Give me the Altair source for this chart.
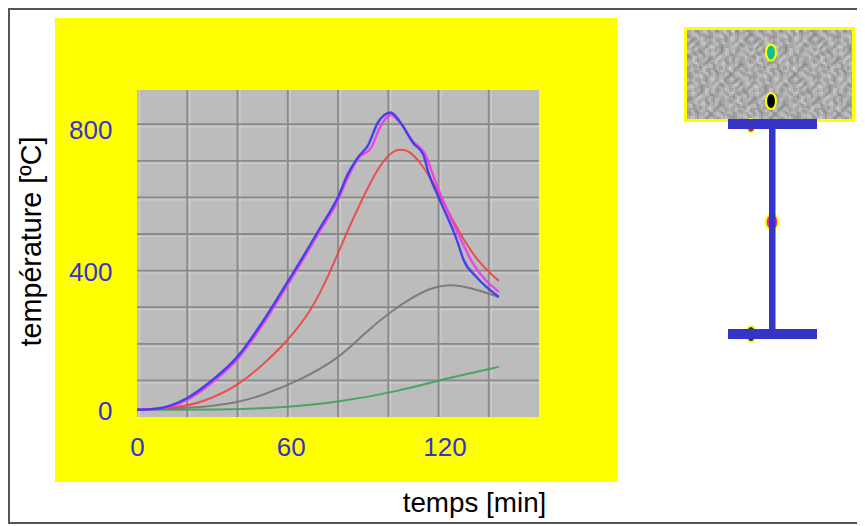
import altair as alt
import pandas as pd

# ---- chart data ----
t_blue = [0, 8, 20, 30, 40, 49, 60, 66, 72.7, 80, 84, 88, 92, 96, 101, 104.5, 110, 114, 116, 120, 127.6, 130, 135, 144]
T_blue = [20, 23, 52, 101, 165, 250, 370, 437, 515, 601, 665, 710, 743, 806, 832, 808, 748, 716, 667, 601, 478, 429, 383, 328]
t_magenta = [0, 8, 20, 30, 40, 49, 60, 66, 72.7, 80, 84, 88, 93.4, 96.6, 101, 104.5, 110, 114.5, 119, 128.4, 133.6, 144]
T_magenta = [20, 22, 47, 95, 158, 242, 362, 429, 507, 592, 656, 706, 738, 790, 825, 806, 752, 721, 639, 492, 421, 342]
t_red = [0, 20, 30, 40, 50, 59.6, 69.6, 76.7, 83.4, 90, 95.4, 100.5, 104.5, 108.5, 112.5, 117, 122, 128.4, 135.5, 144]
T_red = [20, 27, 52, 85, 142, 205, 292, 393, 503, 601, 675, 721, 733, 727, 697, 653, 585, 503, 424, 372]
t_gray = [0, 20, 40, 50, 63.6, 80.7, 90.6, 101.7, 110, 116.5, 124.4, 132, 144]
T_gray = [20, 23, 38, 60, 96, 161, 230, 292, 328, 352, 363, 355, 328]
t_green = [0, 40, 60, 80.7, 104, 124, 144]
T_green = [20, 20, 27, 41, 70, 107, 137]

series = [("blue", t_blue, T_blue, "#3a3af0"), ("magenta", t_magenta, T_magenta, "#ee3cee"),
          ("red", t_red, T_red, "#ee4444"), ("gray", t_gray, T_gray, "#777777"),
          ("green", t_green, T_green, "#3fa455")]
smooth = ["green", "gray", "red"]
sharp_order = ["magenta", "blue"]

x_grid = [20, 40, 60, 80, 100, 120, 140]
y_grid = [100, 200, 300, 400, 500, 600, 700, 800]
x_ticks = [0, 60, 120]
y_ticks = [0, 400, 800]
x_title = "temps [min]"
y_title = "température [ºC]"

# hand-drawn mottling of the concrete section (brightness levels)
tile = [
    "6A38C5927B4E1A63",
    "39D6148AE27C5B90",
    "B27A59C3618D4E27",
    "5E19C47B3A96D283",
    "82D63AE5197C4BA6",
    "C47195D82B6E3A59",
    "1B8E46A3D97258C4",
    "7D39B26C54A1E683",
    "A5E7183C9B46D27A",
    "4C92D65A17E83B69",
]

OX, OY = 137, 90          # page position of the plot's corner
W, H = 402, 327
Y_MAX = 327 / 0.366
BLUE = "#3434c8"
YELLOW = "#ffff00"


def rect(x0, y0, x1, y1, color):
    return alt.Chart().mark_rect(color=color, cornerRadius=0).encode(
        x=alt.value(x0 - OX), x2=alt.value(x1 - OX),
        y=alt.value(y0 - OY), y2=alt.value(y1 - OY))


def ellipse(cx, cy, ratio, ry, fill, stroke=None, sw=0):
    path = f"M0,-1A{ratio},1 0 1 1 0,1A{ratio},1 0 1 1 0,-1Z"
    kw = dict(shape=path, filled=True, fill=fill, size=(2 * ry) ** 2, opacity=1)
    if stroke:
        kw.update(stroke=stroke, strokeWidth=sw)
    return alt.Chart().mark_point(**kw).encode(x=alt.value(cx - OX), y=alt.value(cy - OY))


rows = []
for s, ts, vs, _ in series:
    rows += [{"s": s, "t": a, "T": b} for a, b in zip(ts, vs)]
curves_df = pd.DataFrame(rows)

x_scale = alt.Scale(domain=[0, 160], nice=False, zero=False)
y_scale = alt.Scale(domain=[0, Y_MAX], nice=False, zero=False)

axis_font = dict(labelFont="Liberation Sans", labelFontSize=26, labelColor=BLUE, labelFlush=False,
                 titleFont="Liberation Sans", titleColor="#000000",
                 titleFontWeight="normal", grid=False, domain=False, ticks=False, zindex=1)
x_axis = alt.Axis(values=x_ticks, format="d", orient="bottom", title=x_title, labelPadding=17,
                  labelOffset=alt.expr("datum.value / 20"), labelAngle=0, titleFontSize=27.8,
                  titleX=337, titleY=86, titleAlign="center", titleBaseline="middle", **axis_font)
y_axis = alt.Axis(values=y_ticks, format="d", orient="left", title=y_title, labelPadding=25,
                  labelOffset=alt.expr("datum.value === 800 ? 6 : datum.value === 0 ? -6 : 2"),
                  labelBaseline="middle", titleFontSize=28.7,
                  titleX=-106, titleY=151, titleAngle=270, titleAlign="center", titleBaseline="middle", **axis_font)
X = lambda f: alt.X(f, scale=x_scale, axis=x_axis)
Y = lambda f: alt.Y(f, scale=y_scale, axis=y_axis)


def px_x(px):
    return (px - OX) * 160 / W


def px_y(py):
    return (OY + H - py) * Y_MAX / H


def texture(shift_x, shift_y, row_shift, opacity):
    cell = 4
    cells = []
    for r in range(23):
        for c in range(42):
            ch = tile[(r + row_shift) % len(tile)][(c + 5 * (r // len(tile)) + row_shift) % len(tile[0])]
            g = 135 + int(ch, 16) * 5
            x0, y0 = 687 + c * cell + shift_x, 30 + r * cell + shift_y
            x1, y1 = min(x0 + cell, 852), min(y0 + cell, 119)
            if x0 < 852 and y0 < 119:
                cells.append({"a": px_x(x0), "b": px_x(x1), "c": px_y(y0), "d": px_y(y1),
                              "g": f"rgb({g},{g},{g})"})
    return alt.Chart(pd.DataFrame(cells)).mark_rect(opacity=opacity).encode(
        x=X("a:Q"), x2="b:Q", y=Y("c:Q"), y2="d:Q",
        color=alt.Color("g:N", scale=None, legend=None))


grid_x_light = alt.Chart(pd.DataFrame({"v": [0] + x_grid})).mark_rule(color="#cdcdcd", strokeWidth=1.2, xOffset=2.5).encode(x=X("v:Q"))
grid_y_light = alt.Chart(pd.DataFrame({"v": y_grid})).mark_rule(color="#cdcdcd", strokeWidth=1.2, yOffset=2.5).encode(y=Y("v:Q"))
grid_x = alt.Chart(pd.DataFrame({"v": x_grid})).mark_rule(color="#8a8a8a", strokeWidth=1.8).encode(x=X("v:Q"))
grid_y = alt.Chart(pd.DataFrame({"v": y_grid})).mark_rule(color="#8a8a8a", strokeWidth=1.8).encode(y=Y("v:Q"))


def curve_layer(names, interp, width):
    layers = []
    for n in names:
        col = [s[3] for s in series if s[0] == n][0]
        layers.append(alt.Chart(curves_df[curves_df.s == n]).mark_line(
            strokeWidth=width, interpolate=interp, opacity=0.92, color=col).encode(x=X("t:Q"), y=Y("T:Q")))
    return layers


frame_col = "#555555"
frame = [rect(8, 8, 857, 10, frame_col), rect(8, 8, 10, 524, frame_col), rect(8, 522, 857, 524, frame_col)]

inset = [
    rect(684, 27, 855, 122, YELLOW),
    rect(687, 30, 852, 119, "#a8a8a8"),
    texture(0, 0, 0, 1),
    texture(2, 2, 3, 0.5),
    ellipse(771, 52.5, 0.62, 8, "#10c090", YELLOW, 2),
    ellipse(771, 101, 0.62, 8, "#000000", YELLOW, 2),
    ellipse(751, 125.5, 0.62, 7, "#e02020", YELLOW, 1.5),
    ellipse(772, 222, 0.8, 8, "#e83090", YELLOW, 2),
    ellipse(751, 334, 0.62, 8, "#222288", YELLOW, 2),
    rect(728, 119, 817, 129, BLUE),
    rect(769, 129, 775.5, 329, BLUE),
    rect(728, 329, 817, 339, BLUE),
]

chart = alt.layer(
    *frame,
    rect(55, 18, 617, 482, YELLOW),
    rect(OX, OY, OX + W, OY + H, "#bcbcbc"),
    grid_x_light, grid_y_light, grid_x, grid_y,
    *inset,
    *curve_layer(smooth, "basis", 2),
    *curve_layer(sharp_order, "monotone", 2.4),
).properties(
    width=W, height=H,
    padding={"left": OX - 8, "top": OY - 8, "right": 849 - (OX - 8) - W, "bottom": 517 - (OY - 8) - H},
    autosize=alt.AutoSizeParams(type="none"),
    background="#ffffff",
).configure_view(stroke=None)

chart.save("out.html", embed_options={"renderer": "svg", "actions": False})
